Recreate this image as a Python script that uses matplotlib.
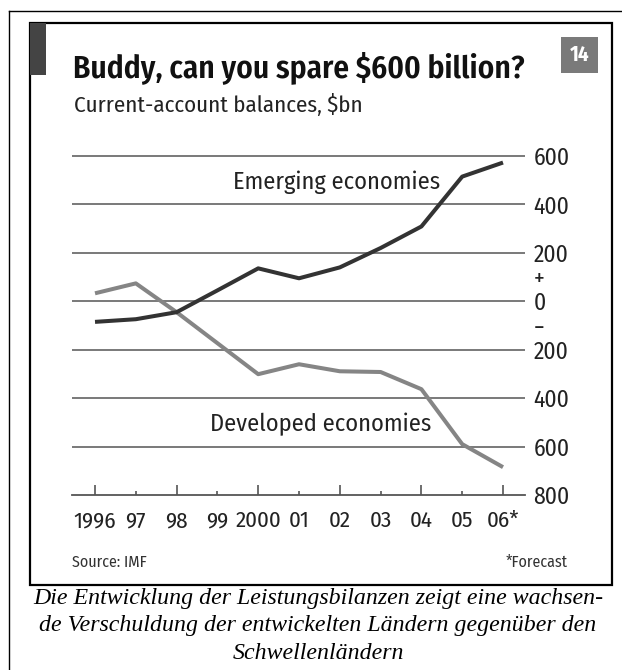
import matplotlib
matplotlib.use('Agg')
import matplotlib.pyplot as plt
from matplotlib.patches import Rectangle
from matplotlib.lines import Line2D

# current-account balances, $bn (IMF)
years = [1996, 1997, 1998, 1999, 2000, 2001, 2002, 2003, 2004, 2005, 2006]
emerging = [-85, -74, -45, 45, 136, 95, 140, 220, 309, 515, 573]
developed = [33, 74, -45, -173, -301, -260, -289, -292, -363, -590, -685]

year_labels = ['1996', '97', '98', '99', '2000', '01', '02', '03', '04', '05', '06*']
grid_levels = [600, 400, 200, 0, -200, -400, -600]
ytick_values = [600, 400, 200, 100, 0, -100, -200, -400, -600, -800]
ytick_labels = ['600', '400', '200', '+', '0', '\u2212', '200', '400', '600', '800']

SANS = ['Fira Sans Condensed', 'DejaVu Sans']
TEXT = '#222222'
W, H = 622, 670


def fx(px):
    return px / W


def fy(py):
    return 1 - py / H


fig = plt.figure(figsize=(W / 100, H / 100), dpi=100)

# outer frame (top and left edges only show)
fig.add_artist(Line2D([fx(9), fx(622)], [fy(11), fy(11)], color='black', lw=1.0))
fig.add_artist(Line2D([fx(9), fx(9)], [fy(11), fy(670)], color='black', lw=1.0))
# inner chart box
fig.add_artist(Rectangle((fx(30), fy(585)), fx(612) - fx(30), fy(23) - fy(585),
                         fill=False, edgecolor='black', lw=1.6))
# dark tab in the corner
fig.add_artist(Rectangle((fx(30), fy(75)), fx(46) - fx(30), fy(23) - fy(75),
                         facecolor='#444444', edgecolor='none'))
# chart number badge
fig.add_artist(Rectangle((fx(561), fy(73)), fx(598) - fx(561), fy(37) - fy(73),
                         facecolor='#7a7a7a', edgecolor='none'))
fig.text(fx(579.5), fy(55), '14', color='white', fontsize=15, fontweight='bold',
         family=SANS, ha='center', va='center')

fig.text(fx(73), fy(77), 'Buddy, can you spare $600 billion?', fontsize=22.5,
         fontweight=600, family=SANS, color='#111111', va='baseline')
fig.text(fx(74), fy(112), 'Current-account balances, $bn', fontsize=16.5,
         family=SANS, color=TEXT, va='baseline')

ax = fig.add_axes([fx(72), fy(495), fx(525) - fx(72), fy(131.8) - fy(495)])
ax.set_xlim(1995.436, 2006.539)
ax.set_ylim(-800, 700)
ax.patch.set_visible(False)
for side in ['top', 'left', 'right']:
    ax.spines[side].set_visible(False)
ax.spines['bottom'].set_color('#555555')
ax.spines['bottom'].set_linewidth(1.3)

for lvl in grid_levels:
    ax.axhline(lvl, color='#6e6e6e', lw=1.3, zorder=1)

ax.plot(years, developed, color='#858585', lw=2.9, solid_capstyle='butt',
        solid_joinstyle='round', zorder=3, clip_on=False)
ax.plot(years, emerging, color='#333333', lw=2.9, solid_capstyle='butt',
        solid_joinstyle='round', zorder=4, clip_on=False)

ax.text(2001.92, 491, 'Emerging economies', fontsize=17.5, family=SANS, color=TEXT,
        ha='center', va='center')
ax.text(2001.54, -508, 'Developed economies', fontsize=17.5, family=SANS, color=TEXT,
        ha='center', va='center')

major = [y for y in years if y % 2 == 0]
minor = [y for y in years if y % 2 == 1]
ax.set_xticks(major, [year_labels[years.index(y)] for y in major])
ax.set_xticks(minor, [year_labels[years.index(y)] for y in minor], minor=True)
ax.tick_params(axis='x', which='both', direction='in', color='#555555', width=1.2,
               pad=11, labelsize=16.5, labelcolor=TEXT)
ax.tick_params(axis='x', which='major', length=7.5)
ax.tick_params(axis='x', which='minor', length=3)
for lab in ax.get_xticklabels(which='both'):
    lab.set_family(SANS)

ax.yaxis.tick_right()
ax.set_yticks(ytick_values, ytick_labels)
ax.tick_params(axis='y', length=0, pad=6, labelsize=17, labelcolor=TEXT)
for lab in ax.get_yticklabels():
    lab.set_family(SANS)
    lab.set_horizontalalignment('left')

fig.text(fx(72), fy(567), 'Source: IMF', fontsize=11.5, family=SANS, color='#333333',
         va='baseline')
fig.text(fx(568), fy(567), '*Forecast', fontsize=11.5, family=SANS, color='#333333',
         va='baseline', ha='right')

caption = ('Die Entwicklung der Leistungsbilanzen zeigt eine wachsen-\n'
           'de Verschuldung der entwickelten L\u00e4ndern gegen\u00fcber den\n'
           'Schwellenl\u00e4ndern')
fig.text(fx(318), fy(588), caption, fontsize=17.2, family='Liberation Serif',
         style='italic', color='black', ha='center', va='top', linespacing=1.4)

fig.savefig('out.png', dpi=100)
